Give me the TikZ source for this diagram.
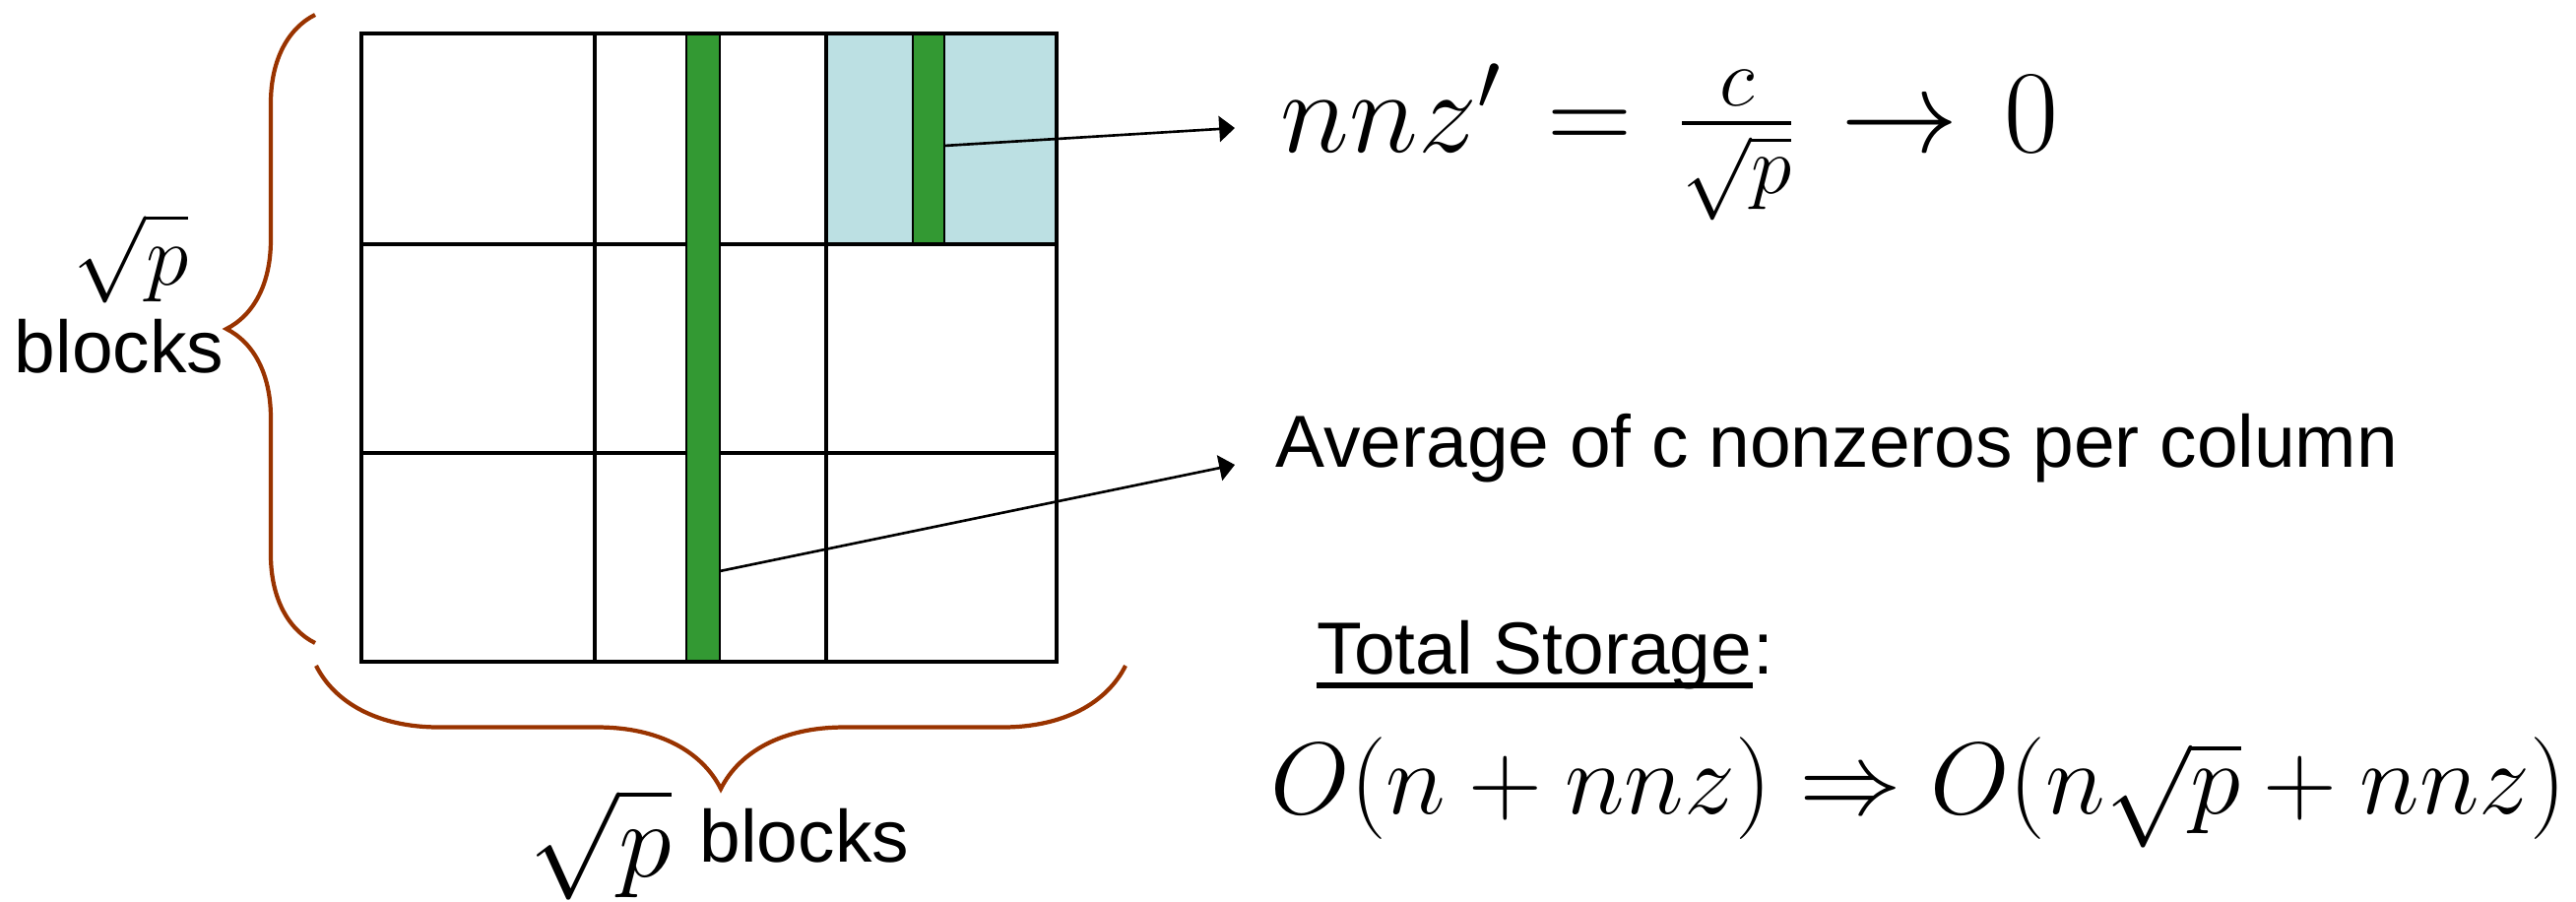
\RequirePackage{fix-cm}
\documentclass[tikz,border=0pt]{standalone}
\usepackage[no-math]{fontspec}
\setmainfont{Liberation Sans}
\usepackage{amsmath}
\usetikzlibrary{arrows.meta, decorations.pathreplacing}

\definecolor{colgreen}{RGB}{51,153,51}
\definecolor{blockblue}{RGB}{188,224,227}
\definecolor{bracebrown}{RGB}{153,51,0}

\begin{document}
\begin{tikzpicture}[x=0.01cm, y=-0.01cm,
    gridline/.style={line width=1.4pt},
    colbar/.style={draw=black, line width=0.4pt, fill=colgreen},
    curly/.style={draw=bracebrown, line width=1.2pt, decorate, decoration={brace, amplitude=#1}},
    pointer/.style={line width=0.75pt, -{Triangle[length=4.5pt,width=7.4pt]}},
    label/.style={inner sep=0pt, font=\fontsize{21.3}{26}\selectfont},
    formula/.style={inner sep=0pt, font=\fontsize{#1}{#1}\selectfont}
  ]
    \useasboundingbox (0,0) rectangle (2616,916);

    % the sqrt(p) x sqrt(p) block grid
    \fill[blockblue] (839,34) rectangle (1073,248);
    \foreach \x in {604,839} \draw[gridline] (\x,34) -- (\x,672);
    \foreach \y in {248,460} \draw[gridline] (367,\y) -- (1073,\y);
    \draw[colbar] (697,34) rectangle (731,672);
    \draw[colbar] (927,34) rectangle (959,247);
    \draw[gridline] (367,34) rectangle (1073,672);

    % braces and their labels
    \draw[curly=0.9cm] (320,653) -- (320,15);
    \draw[curly=1.25cm] (1143,676) -- (321,676);
    \node[formula=25] (sqrt_left) at (133,262) {$\sqrt{\vphantom{b}p}$};
    \node[label, anchor=base] (blocks_left) at (121,379) {blocks};
    \node[formula=31] (sqrt_bottom) at (610,857) {$\sqrt{\vphantom{b}p}$};
    \node[label, anchor=base west] (blocks_bottom) at (710,875) {blocks};

    % texts on the right
    \node[formula=34, anchor=base west] (nnz_local) at (1300,155)
      {$nnz' \mkern2mu=\mkern2mu \frac{c}{\sqrt{p}} \mkern2mu\to\mkern2mu 0$};
    \node[label, anchor=base west] (avg_col) at (1295,475) {Average of c nonzeros per column};
    \node[label, anchor=base west] (storage) at (1337,684) {Total Storage};
    \node[label, anchor=base west] (storage_colon) at (storage.base east) {:};
    \draw[line width=1.7pt] ([yshift=-3.4pt]storage.base west) -- ([yshift=-3.4pt]storage.base east);
    \node[formula=29.5, anchor=base west] (storage_order) at (1290,826) {$O(n+nnz) \Rightarrow O(n\sqrt{p}+nnz)$};

    % pointers from the columns
    \coordinate (top_col) at (959,148);
    \coordinate (long_col) at (731,580);
    \coordinate (nnz_in) at (1254,130);
    \coordinate (avg_in) at (1254,472);
    \draw[pointer] (top_col) -- (nnz_in);
    \draw[pointer] (long_col) -- (avg_in);
  \end{tikzpicture}
\end{document}
